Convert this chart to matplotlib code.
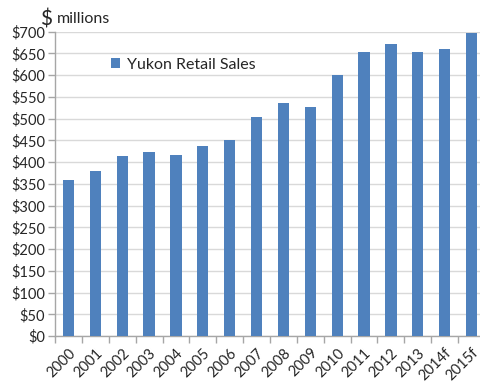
import matplotlib
matplotlib.use("Agg")
import matplotlib.pyplot as plt
import numpy as np

categories = ["2000", "2001", "2002", "2003", "2004", "2005", "2006", "2007",
              "2008", "2009", "2010", "2011", "2012", "2013", "2014f", "2015f"]
sales = [360, 380, 415, 423, 416, 436, 452, 503, 535, 527, 600, 653, 671, 653, 661, 698]
yticks = list(range(0, 701, 50))
ytick_labels = ["$%d" % v for v in yticks]

plt.rcParams['font.family'] = ['Lato', 'DejaVu Sans']

W, H = 481, 383
fig = plt.figure(figsize=(W / 100, H / 100), dpi=100)
left, right, bottom, top = 55, 485, 336, 31.7
ax = fig.add_axes([left / W, (H - bottom) / H, (right - left) / W, (bottom - top) / H])

x = np.arange(len(categories))
bar_color = "#4F81BD"
ax.bar(x, sales, width=0.42, color=bar_color, zorder=3, label="Yukon Retail Sales")

ax.set_xlim(-0.5, len(categories) - 0.5)
ax.set_ylim(0, 700)
ax.set_yticks(yticks)
ax.set_yticklabels(ytick_labels, fontsize=10.5, color="#262626")
ax.yaxis.grid(True, color="#D9D9D9", linewidth=1, zorder=0)
ax.set_axisbelow(True)

ax.set_xticks(x)
ax.set_xticklabels(categories, rotation=45, ha="right", rotation_mode="anchor",
                   fontsize=10.5, color="#262626")
ax.set_xticks(np.arange(len(categories) + 1) - 0.5, minor=True)
ax.tick_params(axis="x", which="major", length=0, pad=7)
ax.tick_params(axis="x", which="minor", length=5, color="#A6A6A6", width=1)
ax.tick_params(axis="y", length=5, color="#A6A6A6", width=1, pad=2)

for s in ["top", "right"]:
    ax.spines[s].set_visible(False)
for s in ["left", "bottom"]:
    ax.spines[s].set_color("#A6A6A6")
    ax.spines[s].set_linewidth(1)

leg = ax.legend(loc="upper left", bbox_to_anchor=(0.115, 0.935), frameon=False,
                fontsize=11.5, handlelength=0.6, handleheight=0.6, handletextpad=0.4,
                borderaxespad=0)
for t in leg.get_texts():
    t.set_color("#262626")

fig.text(40 / W, 1 - 19 / H, "$", fontsize=15, color="#262626", va="center", ha="left")
fig.text(57 / W, 1 - 19 / H, "millions", fontsize=11.5, color="#262626", va="center", ha="left")

fig.savefig("out.png", dpi=100)
